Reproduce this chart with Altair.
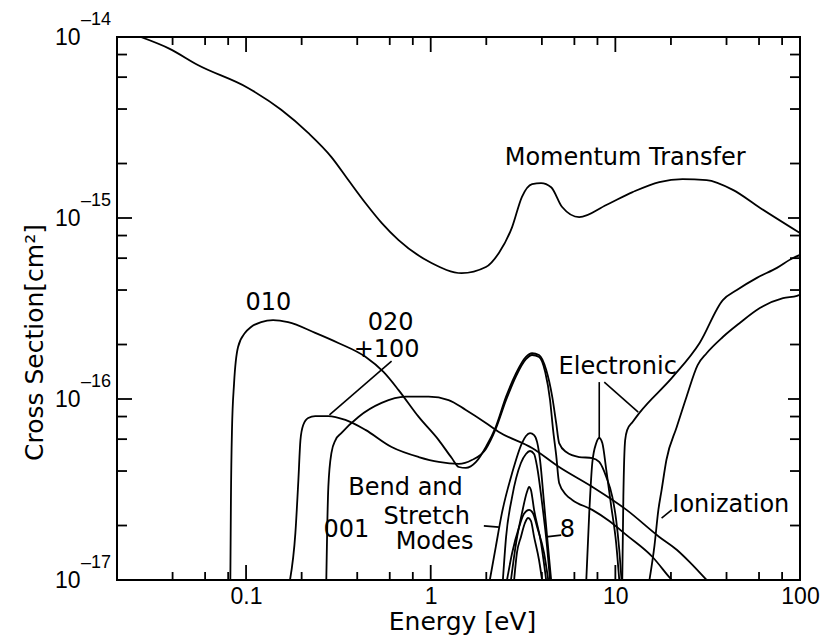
import altair as alt
import pandas as pd

# ---------------- data (E in eV, sigma in cm^2) ----------------
mt_E = [0.0269, 0.0386, 0.0548, 0.1025, 0.155, 0.217, 0.290, 0.358, 0.443, 0.542, 0.670,
        1.01, 1.47, 1.99, 2.34, 2.76, 3.12, 3.54, 3.96, 4.49, 5.15, 6.37, 8.93, 12.4, 17.3,
        23.1, 31.2, 43.3, 60.6, 100]
mt_S = [1.0e-14, 8.6e-15, 7.0e-15, 5.23e-15, 3.96e-15, 2.95e-15, 2.17e-15, 1.62e-15,
        1.21e-15, 9.4e-16, 7.55e-16, 5.64e-16, 4.96e-16, 5.36e-16, 6.41e-16, 8.91e-16, 1.31e-15,
        1.54e-15, 1.56e-15, 1.48e-15, 1.15e-15, 1.01e-15, 1.18e-15, 1.39e-15, 1.58e-15,
        1.64e-15, 1.62e-15, 1.43e-15, 1.14e-15, 8.26e-16]

v010_E = [0.0822, 0.0828, 0.0839, 0.0861, 0.0905, 0.0988, 0.1064, 0.1207, 0.140, 0.169, 0.237,
          0.316, 0.443, 0.555, 0.670, 0.861, 1.105, 1.30, 1.42, 1.55, 1.76, 1.99, 2.25, 2.56,
          2.90, 3.28, 3.54, 3.86, 4.22, 4.55, 4.78, 4.96, 5.42, 6.37, 7.50, 8.18, 8.93, 9.63,
          10.1, 10.5, 10.8]
v010_S = [1.0e-17, 2.77e-17, 6.75e-17, 1.22e-16, 1.94e-16, 2.32e-16, 2.50e-16, 2.66e-16,
          2.73e-16, 2.66e-16, 2.32e-16, 2.04e-16, 1.71e-16, 1.41e-16, 1.12e-16, 7.96e-17,
          5.93e-17, 4.72e-17, 4.21e-17, 4.16e-17, 4.49e-17, 5.43e-17, 7.00e-17, 1.03e-16,
          1.39e-16, 1.71e-16, 1.79e-16, 1.75e-16, 1.45e-16, 1.03e-16, 7.37e-17, 5.71e-17,
          5.09e-17, 4.78e-17, 4.72e-17, 4.49e-17, 3.71e-17, 2.88e-17, 2.15e-17, 1.47e-17, 1.0e-17]

v020_E = [0.173, 0.185, 0.192, 0.197, 0.204, 0.217, 0.237, 0.279, 0.345, 0.443, 0.614, 0.861,
          1.105, 1.42, 1.67, 1.99, 2.25, 2.56, 2.90, 3.28, 3.54, 3.86, 4.17, 4.43, 4.60, 4.78,
          4.96, 5.42, 5.84, 7.50, 9.27, 11.5, 15.9, 19.7, 20.2]
v020_S = [1.0e-17, 1.82e-17, 3.56e-17, 5.93e-17, 7.18e-17, 7.85e-17, 8.05e-17, 8.05e-17,
          7.66e-17, 6.75e-17, 5.43e-17, 4.78e-17, 4.49e-17, 4.38e-17, 4.60e-17, 5.30e-17,
          6.83e-17, 9.87e-17, 1.34e-16, 1.66e-16, 1.75e-16, 1.71e-16, 1.41e-16, 9.87e-17,
          6.75e-17, 4.91e-17, 3.44e-17, 2.95e-17, 2.77e-17, 2.44e-17, 2.12e-17, 1.77e-17,
          1.34e-17, 1.03e-17, 1.0e-17]

v001_E = [0.272, 0.275, 0.279, 0.290, 0.305, 0.328, 0.406, 0.542, 0.731, 0.975, 1.25, 1.55,
          1.99, 2.34, 3.54, 4.96, 7.50, 11.5, 17.3, 21.5, 25.2, 31.2]
v001_S = [1.0e-17, 1.89e-17, 3.27e-17, 5.04e-17, 5.93e-17, 6.48e-17, 7.96e-17, 9.51e-17,
          1.03e-16, 1.03e-16, 9.87e-17, 8.69e-17, 7.37e-17, 6.57e-17, 5.36e-17, 4.21e-17,
          3.27e-17, 2.44e-17, 1.73e-17, 1.47e-17, 1.26e-17, 1.0e-17]

bs1_E = [2.09, 2.25, 2.43, 2.76, 3.12, 3.28, 3.45, 3.63, 3.77, 3.91, 4.11, 4.27, 4.49]
bs1_S = [1.0e-17, 1.52e-17, 2.34e-17, 3.90e-17, 5.71e-17, 6.25e-17, 6.48e-17, 6.32e-17,
         5.78e-17, 4.60e-17, 2.66e-17, 1.73e-17, 1.0e-17]
bs2_E = [2.46, 2.56, 2.76, 3.08, 3.28, 3.45, 3.63, 3.77, 4.01, 4.27, 4.43]
bs2_S = [1.0e-17, 1.73e-17, 2.88e-17, 4.43e-17, 4.97e-17, 5.16e-17, 4.97e-17, 4.21e-17,
         2.66e-17, 1.52e-17, 1.0e-17]
bs3_E = [2.72, 2.90, 3.12, 3.32, 3.41, 3.49, 3.63, 3.96, 4.22]
bs3_S = [1.0e-17, 1.60e-17, 2.34e-17, 3.06e-17, 3.27e-17, 3.14e-17, 2.44e-17, 1.60e-17, 1.0e-17]
bs4_E = [2.59, 2.76, 3.01, 3.20, 3.41, 3.58, 3.77, 4.11, 4.33]
bs4_S = [1.0e-17, 1.41e-17, 1.96e-17, 2.32e-17, 2.44e-17, 2.34e-17, 1.96e-17, 1.41e-17, 1.0e-17]
bs5_E = [2.83, 2.93, 3.08, 3.24, 3.37, 3.49, 3.63, 3.86, 4.01]
bs5_S = [1.0e-17, 1.41e-17, 1.73e-17, 2.07e-17, 2.20e-17, 2.12e-17, 1.73e-17, 1.29e-17, 1.0e-17]

el8_E = [6.96, 7.22, 7.50, 7.88, 8.18, 8.50, 8.93, 9.51, 10.1, 10.5]
el8_S = [1.0e-17, 2.34e-17, 4.43e-17, 5.71e-17, 6.09e-17, 5.71e-17, 4.06e-17, 2.53e-17,
         1.60e-17, 1.0e-17]

el_E = [10.9, 11.05, 11.3, 11.6, 12.4, 13.5, 20.4, 28.6, 38.2, 45.5, 58.4, 75.0, 91.6, 100]
el_S = [1.0e-17, 2.88e-17, 5.93e-17, 6.75e-17, 7.46e-17, 8.38e-17, 1.32e-16, 2.04e-16,
        3.52e-16, 4.00e-16, 4.67e-16, 5.30e-16, 6.01e-16, 6.25e-16]

ion_E = [15.3, 16.3, 17.1, 17.8, 18.9, 21.5, 24.3, 27.9, 31.2, 38.2, 47.2, 60.6, 80.9, 96.4, 100]
ion_S = [1.0e-17, 1.56e-17, 2.44e-17, 3.14e-17, 4.60e-17, 7.00e-17, 1.03e-16, 1.54e-16,
         1.79e-16, 2.20e-16, 2.63e-16, 3.18e-16, 3.61e-16, 3.71e-16, 3.76e-16]

# annotation labels
label_text = ["Momentum Transfer", "010", "020", "+100", "001", "Bend and", "Stretch", "Modes",
              "8", "Electronic", "Ionization"]
label_E = [11.3, 0.132, 0.606, 0.577, 0.349, 0.731, 0.951, 1.05, 5.49, 10.3, 42.2]
label_S = [2.14e-15, 3.39e-16, 2.63e-16, 1.87e-16, 1.89e-17, 3.22e-17, 2.23e-17, 1.62e-17,
           1.89e-17, 1.50e-16, 2.59e-17]

# leader lines of the labels
ptr_E1 = [0.614, 1.94, 4.22, 8.18, 8.71, 20.2]
ptr_S1 = [1.62e-16, 1.99e-17, 1.73e-17, 1.24e-16, 1.24e-16, 2.44e-17]
ptr_E2 = [0.283, 2.34, 5.09, 8.18, 13.3, 17.8]
ptr_S2 = [8.17e-17, 1.96e-17, 1.77e-17, 6.09e-17, 8.47e-17, 2.20e-17]

# axes
x_label_values = [0.1, 1, 10, 100]
y_label_values = [1e-17, 1e-16, 1e-15, 1e-14]
y_exponents = ["\u201317", "\u201316", "\u201315", "\u201314"]
x_major_ticks = [0.1, 1, 10]
x_minor_ticks = [0.04, 0.06, 0.08, 0.2, 0.4, 0.6, 0.8, 2, 4, 6, 8, 20, 40, 60, 80]
y_major_ticks = [1e-16, 1e-15]
y_minor_ticks = [2e-17, 4e-17, 6e-17, 8e-17, 2e-16, 4e-16, 6e-16, 8e-16,
                 2e-15, 4e-15, 6e-15, 8e-15]

# ---------------- build tables ----------------
curve_list = [
    ("momentum", mt_E, mt_S), ("v010", v010_E, v010_S), ("v020_100", v020_E, v020_S),
    ("v001", v001_E, v001_S), ("bs1", bs1_E, bs1_S), ("bs2", bs2_E, bs2_S),
    ("bs3", bs3_E, bs3_S), ("bs4", bs4_E, bs4_S), ("bs5", bs5_E, bs5_S),
    ("el8", el8_E, el8_S), ("electronic", el_E, el_S), ("ionization", ion_E, ion_S),
]
rows = []
for name, es, ss in curve_list:
    for i, (e, s) in enumerate(zip(es, ss)):
        rows.append({"curve": name, "E": e, "S": s, "i": i})
curves_df = pd.DataFrame(rows)
labels_df = pd.DataFrame({"t": label_text, "E": label_E, "S": label_S})
ptr_df = pd.DataFrame({"E": ptr_E1, "S": ptr_S1, "E2": ptr_E2, "S2": ptr_S2})
exp_df = pd.DataFrame({"S": y_label_values, "t": y_exponents})

W, H = 683, 543
xscale = alt.Scale(type="log", domain=[0.02, 100], nice=False)
yscale = alt.Scale(type="log", domain=[1e-17, 1e-14], nice=False)

x_axis = alt.Axis(values=x_label_values, format="~g", title="Energy [eV]", ticks=False,
                  domain=False, grid=False, labelFont="Liberation Sans", labelFontSize=23,
                  labelPadding=5, labelFlush=False, labelOverlap=False, labelColor="black",
                  titleFont="DejaVu Sans", titleFontSize=25, titleFontWeight="normal",
                  titleColor="black", titleX=345, titleY=49, titleBaseline="alphabetic",
                  titleAlign="center")
y_axis = alt.Axis(values=y_label_values, labelExpr="'10'", title="Cross Section[cm\u00b2]",
                  ticks=False, domain=False, grid=False, labelFont="Liberation Sans",
                  labelFontSize=23, labelPadding=37, labelOverlap=False, labelFlush=False,
                  labelColor="black", titleFont="DejaVu Sans", titleFontSize=25,
                  titleFontWeight="normal", titleColor="black", titleAngle=270, titleX=-75,
                  titleY=305, titleBaseline="alphabetic", titleAlign="center")

X = alt.X("E:Q", scale=xscale, axis=x_axis, title="Energy [eV]")
Y = alt.Y("S:Q", scale=yscale, axis=y_axis, title="Cross Section[cm\u00b2]")

lines = alt.Chart(curves_df).mark_line(
    color="black", strokeWidth=1.8, interpolate="monotone", clip=True
).encode(x=X, y=Y, detail="curve:N", order="i:Q")

ptrs = alt.Chart(ptr_df).mark_rule(color="black", strokeWidth=1.6).encode(
    x=X, x2="E2:Q", y=Y, y2="S2:Q",
)

labels = alt.Chart(labels_df).mark_text(
    font="DejaVu Sans", fontSize=24, align="center", baseline="middle", color="black"
).encode(x=X, y=Y, text="t:N")

exps = alt.Chart(exp_df).mark_text(
    font="Liberation Sans", fontSize=18, align="left", baseline="middle", dy=-17, color="black"
).encode(y=Y, x=alt.value(-36), text="t:N")


def xticks(vals, y0, y1):
    return alt.Chart(pd.DataFrame({"E": vals})).mark_rule(color="black", strokeWidth=1.8).encode(
        x=X, y=alt.value(y0), y2=alt.value(y1))


def yticks(vals, x0, x1):
    return alt.Chart(pd.DataFrame({"S": vals})).mark_rule(color="black", strokeWidth=1.8).encode(
        y=Y, x=alt.value(x0), x2=alt.value(x1))


tick_layers = [
    xticks(x_major_ticks, H, H - 15), xticks(x_minor_ticks, H, H - 8),
    xticks(x_major_ticks, 0, 15), xticks(x_minor_ticks, 0, 8),
    yticks(y_major_ticks, 0, 15), yticks(y_minor_ticks, 0, 10),
    yticks(y_major_ticks, W, W - 12), yticks(y_minor_ticks, W, W - 10),
]

chart = alt.layer(lines, ptrs, labels, exps, *tick_layers).properties(
    width=W, height=H, autosize="none",
    padding={"left": 117, "top": 37, "right": 25, "bottom": 59},
    background="white",
).configure_view(stroke="black", strokeWidth=2)

chart.save("out.html", embed_options={"renderer": "svg", "actions": False})
